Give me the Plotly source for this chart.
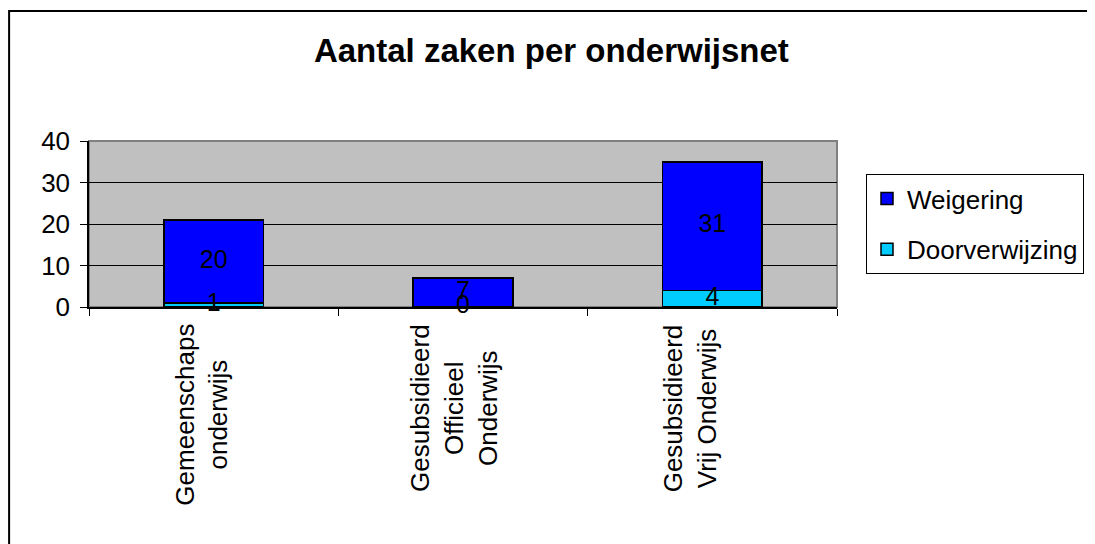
import plotly.graph_objects as go

categories = ["Gemeenschaps onderwijs", "Gesubsidieerd Officieel Onderwijs", "Gesubsidieerd Vrij Onderwijs"]
category_labels = ["Gemeenschaps<br>onderwijs", "Gesubsidieerd<br>Officieel<br>Onderwijs", "Gesubsidieerd<br>Vrij Onderwijs"]
doorverwijzing = [1, 0, 4]
weigering = [20, 7, 31]
y_ticks = [0, 10, 20, 30, 40]

# the page body has an 8px margin, so work in figure coordinates = screen - 8
OFF = 8
W, H = 1095 - OFF, 544 - OFF
L, R, T, B = 89 - OFF, 838 - OFF, 141 - OFF, 307 - OFF
pw, ph = R - L, B - T

def px_x(p):
    return (p - OFF - L) / pw

def px_y(p):
    return (B - (p - OFF)) / ph

FONT = "Liberation Sans, Arial, sans-serif"

fig = go.Figure()
fig.add_trace(go.Bar(
    x=categories, y=doorverwijzing, name="Doorverwijzing",
    marker=dict(color="#00CCFF", line=dict(color="black", width=1.5)),
    width=0.4, legendgroup="d", legendrank=2,
))
fig.add_trace(go.Bar(
    x=categories, y=weigering, name="Weigering",
    marker=dict(color="#0000FF", line=dict(color="black", width=1.5)),
    width=0.4, legendgroup="w", legendrank=1,
))

# data labels centred on each segment
lab_x, lab_y, lab_t = [], [], []
for c, d, w in zip(categories, doorverwijzing, weigering):
    lab_x += [c, c]
    lab_y += [d / 2, d + w / 2]
    lab_t += [str(d), str(w)]
fig.add_trace(go.Scatter(
    x=lab_x, y=lab_y, text=lab_t, mode="text",
    textposition="middle center",
    textfont=dict(family=FONT, size=25, color="black"),
    showlegend=False, hoverinfo="skip", cliponaxis=False,
))

label_shift = [-12, -9, -22]
annotations = []
for c, t, s in zip(categories, category_labels, label_shift):
    annotations.append(dict(
        x=c, xref="x", y=px_y(322), yref="paper", xshift=s,
        text=t, textangle=-90, showarrow=False,
        xanchor="center", yanchor="top", align="center",
        font=dict(family=FONT, size=26, color="black"),
    ))

shapes = [
    # outer chart border
    dict(type="rect", xref="paper", yref="paper",
         x0=px_x(9), x1=px_x(1120), y0=px_y(580), y1=px_y(11),
         line=dict(color="black", width=2), fillcolor="rgba(0,0,0,0)", layer="below"),
    # plot area gray border
    dict(type="rect", xref="paper", yref="paper", x0=0, x1=1, y0=0, y1=1,
         line=dict(color="#808080", width=2), fillcolor="rgba(0,0,0,0)", layer="below"),
]

fig.update_layout(
    width=W, height=H,
    margin=dict(l=L, r=W - R, t=T, b=H - B, pad=0),
    barmode="stack",
    paper_bgcolor="white", plot_bgcolor="#C0C0C0",
    font=dict(family=FONT, color="black"),
    title=dict(text="<b>Aantal zaken per onderwijsnet</b>",
               x=px_x(552), xref="paper", xanchor="center",
               y=1 - (50 - OFF) / H, yref="container", yanchor="middle",
               font=dict(family=FONT, size=33, color="black")),
    xaxis=dict(showticklabels=False, ticks="outside", tickson="boundaries",
               ticklen=7, tickcolor="black", tickwidth=1,
               showline=True, linecolor="black", linewidth=1.5,
               showgrid=False, zeroline=False),
    yaxis=dict(range=[0, 40], tickvals=y_ticks, ticks="outside", ticklen=7,
               tickcolor="black", showline=True, linecolor="black", linewidth=1.5,
               showgrid=True, gridcolor="black", gridwidth=1, zeroline=False,
               ticklabelstandoff=5,
               tickfont=dict(family=FONT, size=26, color="black")),
    legend=dict(x=px_x(866), xanchor="left", y=px_y(174), yanchor="top",
                bordercolor="black", borderwidth=1, bgcolor="white",
                traceorder="grouped", tracegroupgap=14,
                font=dict(family=FONT, size=26, color="black")),
    annotations=annotations,
    shapes=shapes,
    showlegend=True,
)

fig.write_html("out.html")
